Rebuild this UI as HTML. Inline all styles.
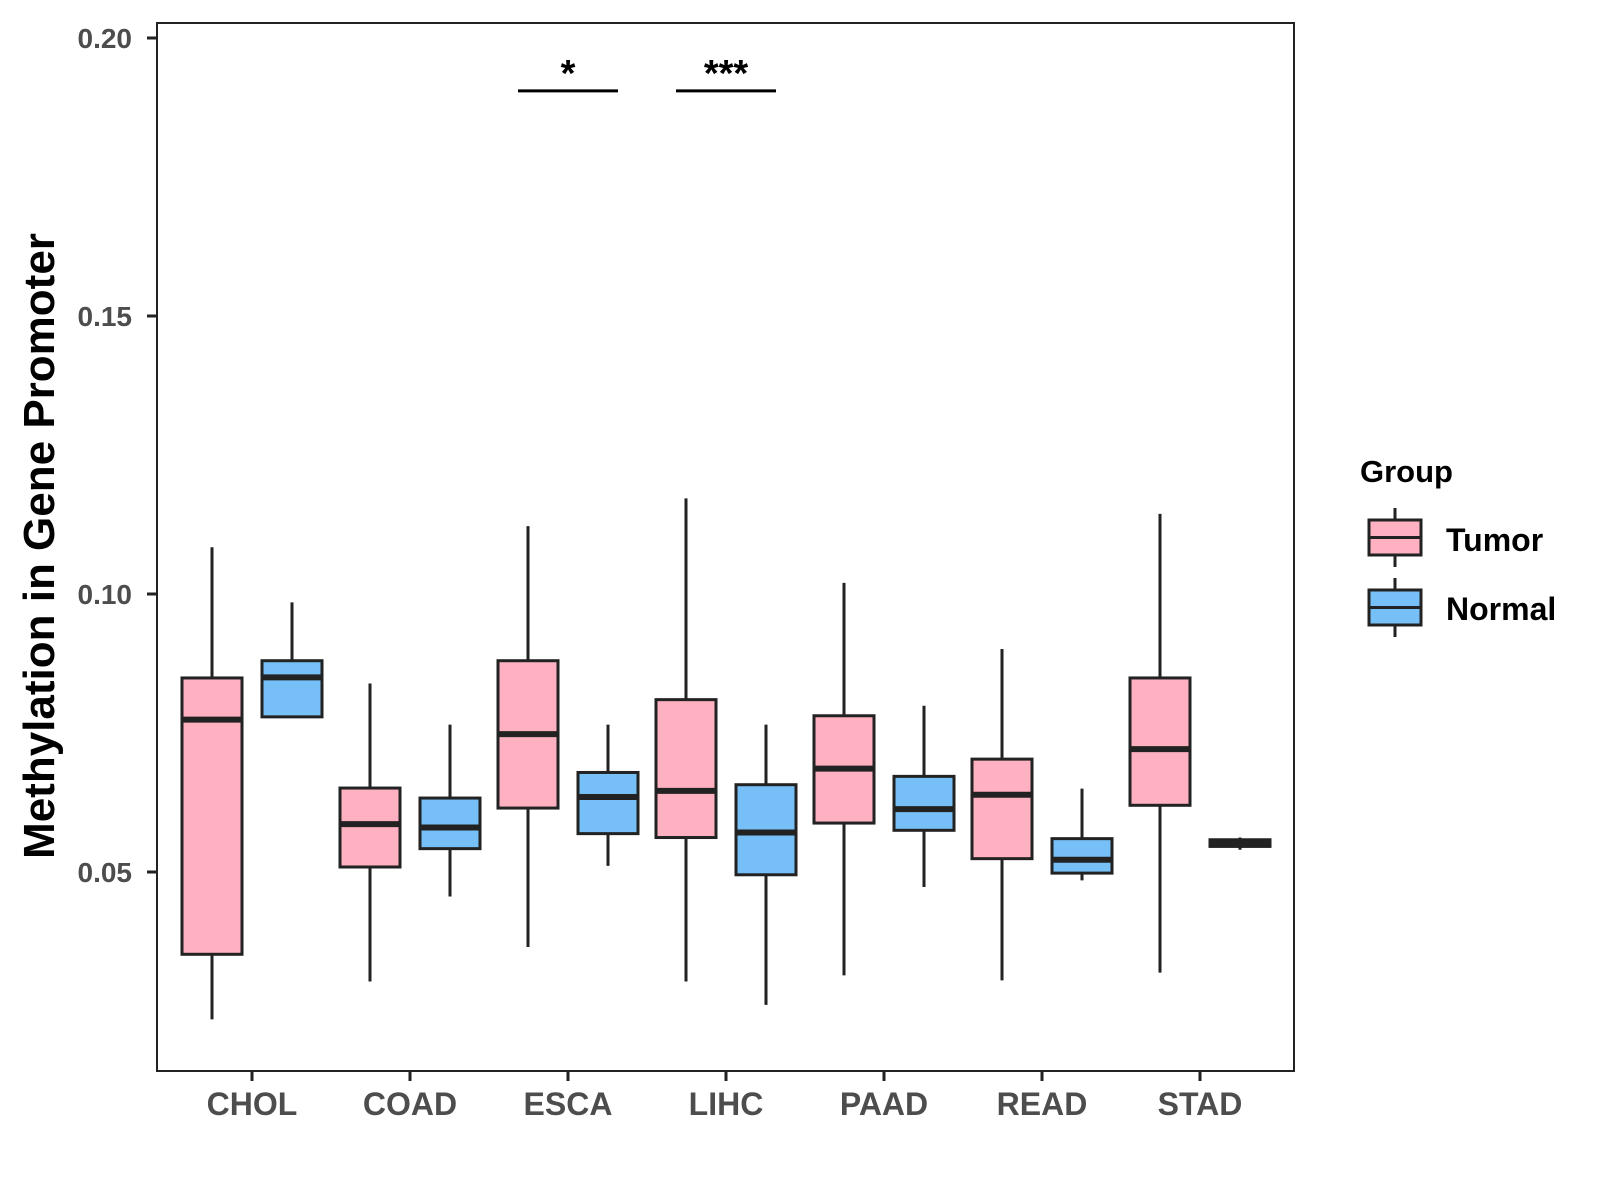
<!DOCTYPE html>
<html><head><meta charset="utf-8"><style>
html,body{margin:0;padding:0;background:#fff}
svg{display:block}
text{font-family:"Liberation Sans",Arial,sans-serif;font-weight:bold}
</style></head><body>
<svg id="chart" width="1600" height="1200" viewBox="0 0 1600 1200" xmlns="http://www.w3.org/2000/svg">
<rect x="157" y="23" width="1137" height="1048" fill="#fff" stroke="#222" stroke-width="2"/>
<g id="axes"></g>
<g id="boxes"></g>
<text transform="translate(54,546) rotate(-90)" text-anchor="middle" font-size="44" fill="#000">Methylation in Gene Promoter</text>
<g>
<text x="1360" y="482" font-size="31" fill="#000">Group</text>
<g>
<line x1="1395" y1="508" x2="1395" y2="567" stroke="#222" stroke-width="3"/>
<rect x="1369" y="520" width="52" height="35" fill="#FFB1C1" stroke="#222" stroke-width="3"/>
<line x1="1369" y1="537.5" x2="1421" y2="537.5" stroke="#222" stroke-width="3"/>
<text x="1446" y="551" font-size="32" fill="#000">Tumor</text>
</g>
<g>
<line x1="1395" y1="578" x2="1395" y2="637" stroke="#222" stroke-width="3"/>
<rect x="1369" y="590" width="52" height="35" fill="#77C0F7" stroke="#222" stroke-width="3"/>
<line x1="1369" y1="607.5" x2="1421" y2="607.5" stroke="#222" stroke-width="3"/>
<text x="1446" y="620" font-size="32" fill="#000">Normal</text>
</g>
</g>
</svg>
<script>
const categories = ["CHOL","COAD","ESCA","LIHC","PAAD","READ","STAD"];
const groups = ["Tumor","Normal"];
// [lower whisker, q1, median, q3, upper whisker]
const tumorStats = [
 [0.0235,0.0352,0.0774,0.0849,0.1084],
 [0.0303,0.0509,0.0586,0.0651,0.0839],
 [0.0365,0.0615,0.0748,0.0880,0.1122],
 [0.0303,0.0562,0.0646,0.0810,0.1172],
 [0.0314,0.0588,0.0686,0.0781,0.1020],
 [0.0305,0.0524,0.0639,0.0703,0.0901],
 [0.0319,0.0620,0.0721,0.0849,0.1144]
];
const normalStats = [
 [0.0779,0.0779,0.0850,0.0880,0.0985],
 [0.0456,0.0542,0.0580,0.0633,0.0765],
 [0.0511,0.0569,0.0635,0.0679,0.0765],
 [0.0261,0.0495,0.0571,0.0657,0.0765],
 [0.0473,0.0575,0.0613,0.0672,0.0799],
 [0.0485,0.0498,0.0522,0.0560,0.0650],
 [0.0540,0.0546,0.0553,0.0558,0.0562]
];
const yTicks = [0.05,0.10,0.15,0.20];
const yTickLabels = ["0.05","0.10","0.15","0.20"];
const sigCategories = ["ESCA","LIHC"];
const sigLabels = ["*","***"];
const sigLevel = 0.1905;

const NS="http://www.w3.org/2000/svg";
function y(v){return 38+(0.20-v)/0.05*278;}
function x(i){return 252+i*158;}
function mk(tag,attrs,parent){const e=document.createElementNS(NS,tag);for(const k in attrs)e.setAttribute(k,attrs[k]);parent.appendChild(e);return e;}
const axes=document.getElementById('axes');
const boxes=document.getElementById('boxes');
yTicks.forEach((t,i)=>{
  const l=mk('line',{x1:147,x2:157,y1:y(t),y2:y(t),stroke:'#222','stroke-width':3},axes);
  
  
  const tx=mk('text',{x:132,y:y(t)+10,'text-anchor':'end','font-size':28,fill:'#4d4d4d'},axes);
  
  
  tx.textContent=yTickLabels[i];
});
categories.forEach((c,i)=>{
  const l=mk('line',{x1:x(i),x2:x(i),y1:1071,y2:1081,stroke:'#222','stroke-width':3},axes);
  
  
  const tx=mk('text',{x:x(i),y:1115,'text-anchor':'middle','font-size':32,fill:'#4d4d4d'},axes);
  
  
  tx.textContent=c;
});
function drawBox(s,cx,fill,name){
  const g=mk('g',{},boxes);
  
  
  mk('line',{x1:cx,x2:cx,y1:y(s[4]),y2:y(s[0]),stroke:'#222','stroke-width':3},g);
  mk('rect',{x:cx-30,y:y(s[3]),width:60,height:Math.max(y(s[1])-y(s[3]),1),fill:fill,stroke:'#222','stroke-width':3},g);
  mk('line',{x1:cx-30,x2:cx+30,y1:y(s[2]),y2:y(s[2]),stroke:'#222','stroke-width':6},g);
}
categories.forEach((c,i)=>{
  drawBox(tumorStats[i],x(i)-40,'#FFB1C1','box-tumor-'+c.toLowerCase());
  drawBox(normalStats[i],x(i)+40,'#77C0F7','box-normal-'+c.toLowerCase());
});
sigCategories.forEach((c,k)=>{
  const i=categories.indexOf(c);
  const l=mk('line',{x1:x(i)-50,x2:x(i)+50,y1:y(sigLevel),y2:y(sigLevel),stroke:'#000','stroke-width':3},boxes);
  
  
  const t=mk('text',{x:x(i),y:y(sigLevel)-5,'text-anchor':'middle','font-size':38,fill:'#000'},boxes);
  
  
  t.textContent=sigLabels[k];
});
</script>
</body></html>
